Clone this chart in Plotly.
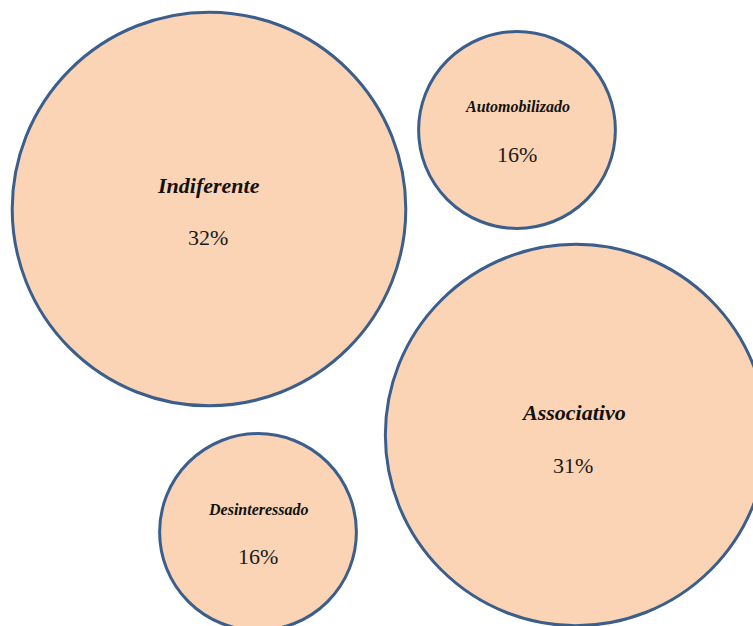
import plotly.graph_objects as go

# Data
categories = ["Indiferente", "Automobilizado", "Associativo", "Desinteressado"]
percentages = [32, 16, 31, 16]
pct_labels = ["32%", "16%", "31%", "16%"]

# Layout (pixel positions on a 753x626 canvas)
center_x = [209, 517, 576, 258]
center_y = [209, 130, 435, 532]
text_dx = [-1, 0, -3, 0]
label_dy = [-24, -24, -23, -23]
pct_dy = [28, 24, 30, 24]
label_sizes = [22, 16, 22, 16]
pct_size = 22
size_per_pct = 12.3

fill_color = "#FAD4B4"
line_color = "#3B5E8C"
serif = "Liberation Serif"

fig = go.Figure()
fig.add_trace(go.Scatter(
    x=center_x,
    y=center_y,
    mode="markers",
    marker=dict(
        size=[p * size_per_pct for p in percentages],
        sizemode="diameter",
        color=fill_color,
        line=dict(color=line_color, width=3),
        opacity=1,
    ),
    hoverinfo="text",
    hovertext=[f"{c}: {p}" for c, p in zip(categories, pct_labels)],
    showlegend=False,
))

for cat, pl, cx, cy, dx, ldy, pdy, ls in zip(categories, pct_labels, center_x, center_y,
                                             text_dx, label_dy, pct_dy, label_sizes):
    fig.add_annotation(
        x=cx + dx, y=cy + ldy, text=f"<b><i>{cat}</i></b>", showarrow=False,
        xanchor="center", yanchor="middle",
        font=dict(family=serif, size=ls, color="#111111"),
    )
    fig.add_annotation(
        x=cx + dx, y=cy + pdy, text=pl, showarrow=False,
        xanchor="center", yanchor="middle",
        font=dict(family=serif, size=pct_size, color="#1a1a1a"),
    )

fig.update_layout(
    width=753, height=626,
    margin=dict(l=0, r=0, t=0, b=0),
    paper_bgcolor="white", plot_bgcolor="white",
    font=dict(family=serif),
    xaxis=dict(range=[0, 753], visible=False, fixedrange=True),
    yaxis=dict(range=[626, 0], visible=False, fixedrange=True),
)

fig.write_html("out.html")
